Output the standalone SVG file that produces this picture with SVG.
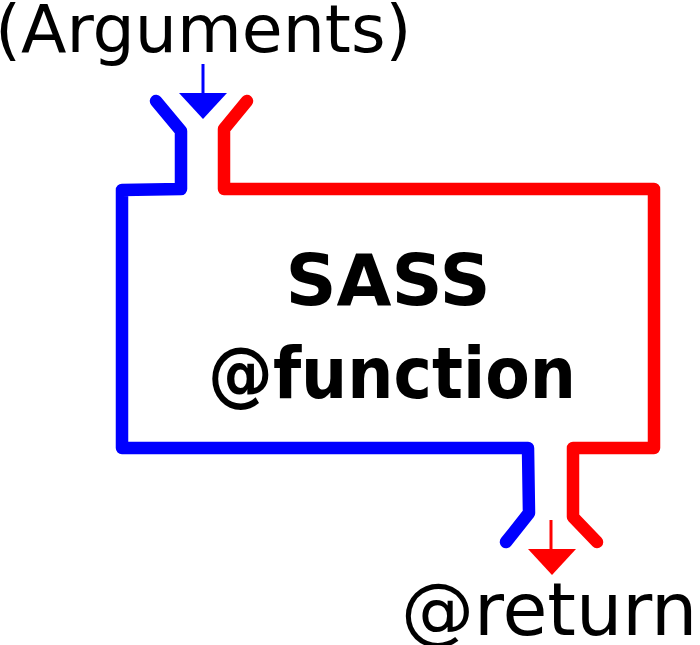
<svg xmlns="http://www.w3.org/2000/svg" width="700" height="645" viewBox="0 0 700 645">
<style>
.w{fill:none;stroke-width:12.5;stroke-linejoin:round;stroke-linecap:round}
.b{stroke:#0000ff}
.r{stroke:#ff0000}
.t{font-family:"DejaVu Sans",Verdana,sans-serif;fill:#000}
</style>
<rect width="700" height="645" fill="#fff"/>
<g id="connectors">
<path class="w b" d="M156,101 L181,131 L181,189 L122,190 L122,448 L528,448 L529,513 L506,542"/>
<path class="w r" d="M247,101 L224,129 L224,189 L654,189 L654,448 L573,448 L573,517 L597,542"/>
<line x1="203" y1="64" x2="203" y2="98" stroke="#0000ff" stroke-width="3"/>
<polygon points="179,93 227,93 203,119" fill="#0000ff"/>
<line x1="551" y1="520" x2="551" y2="552" stroke="#ff0000" stroke-width="3"/>
<polygon points="528,549 576,549 552,575" fill="#ff0000"/>
</g>
<g id="arguments"><text class="t" x="-5" y="52" font-size="66.5">(Arguments)</text></g>
<g id="function"><text class="t" x="388" y="305" font-size="71" font-weight="bold" text-anchor="middle">SASS</text>
<text class="t" x="392" y="398" font-size="71" font-weight="bold" text-anchor="middle" textLength="368" lengthAdjust="spacingAndGlyphs">@function</text></g>
<g id="return"><text class="t" x="401" y="635" font-size="73">@return</text></g>
</svg>
